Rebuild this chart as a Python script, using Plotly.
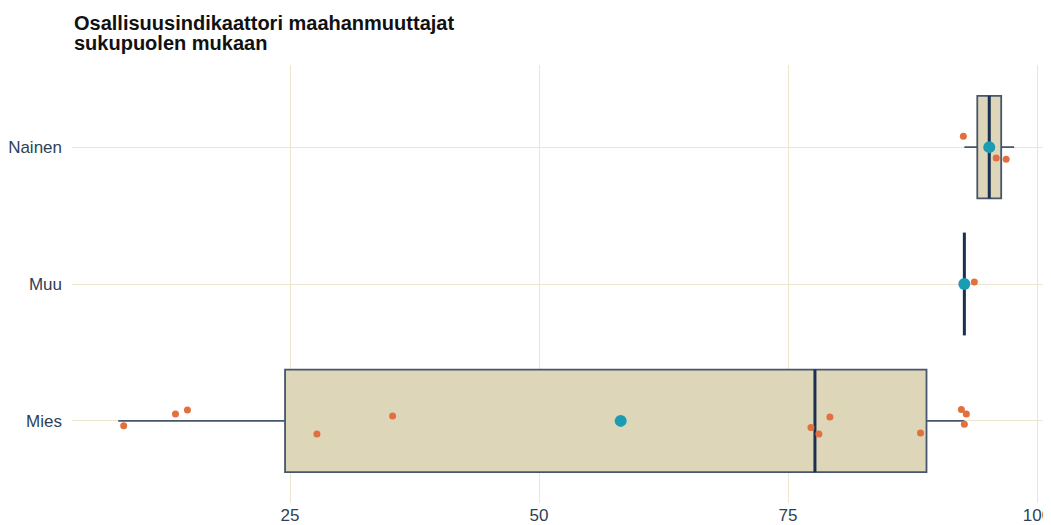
import plotly.graph_objects as go

# Categories bottom -> top
groups = ["Mies", "Muu", "Nainen"]

# Box statistics
q1 = [24.5, 92.7, 94.0]
median = [77.7, 92.7, 95.2]
q3 = [88.9, 92.7, 96.4]
lower = [7.75, 92.7, 92.7]
upper = [92.7, 92.7, 97.7]
means = [58.2, 92.7, 95.2]

# Jittered observations (value, vertical jitter) per group
mies_x = [8.3, 13.5, 14.7, 27.7, 35.3, 77.3, 78.1, 79.2, 88.3, 92.4, 92.9, 92.7]
mies_jit = [-0.036, 0.051, 0.080, -0.095, 0.036, -0.048, -0.095, 0.029, -0.088, 0.084, 0.051, -0.024]
muu_x = [93.7]
muu_jit = [0.015]
nainen_x = [92.6, 95.9, 96.9]
nainen_jit = [0.080, -0.080, -0.088]

title_lines = ["Osallisuusindikaattori maahanmuuttajat", "sukupuolen mukaan"]

pos = list(range(len(groups)))
box_w = 0.75

pts_x = mies_x + muu_x + nainen_x
pts_y = ([0 + j for j in mies_jit] + [1 + j for j in muu_jit] +
         [2 + j for j in nainen_jit])

# median segments (drawn thicker, like ggplot's fatten)
med_x, med_y = [], []
for p, m in zip(pos, median):
  med_x += [m, m, None]
  med_y += [p - box_w / 2, p + box_w / 2, None]

fig = go.Figure()
fig.add_trace(go.Box(
  y=pos, q1=q1, median=median, q3=q3, lowerfence=lower, upperfence=upper,
  orientation="h", width=box_w, whiskerwidth=0,
  fillcolor="#ded6b8", line=dict(color="#46566c", width=1.8),
  hoverinfo="skip", showlegend=False))
fig.add_trace(go.Scatter(
  x=med_x, y=med_y, mode="lines",
  line=dict(color="#1b3152", width=3), hoverinfo="skip", showlegend=False))
fig.add_trace(go.Scatter(
  x=pts_x, y=pts_y, mode="markers",
  marker=dict(color="#e2703f", size=7), showlegend=False))
fig.add_trace(go.Scatter(
  x=means, y=pos, mode="markers",
  marker=dict(color="#1a9db3", size=12), showlegend=False))

grid = "#ece6d0"
# page body adds an 8px margin, so the figure is 8px smaller than the window
fig.update_layout(
  width=1043, height=517,
  margin=dict(l=64, r=0, t=57, b=22),
  plot_bgcolor="white", paper_bgcolor="white",
  font=dict(family="Liberation Sans, Arial, sans-serif", color="#2e3f57", size=17),
  annotations=[
    dict(text="<b>{}</b>".format(title_lines[0]), xref="paper", yref="paper",
         x=0, y=1.095, xanchor="left", yanchor="middle", showarrow=False,
         font=dict(size=20, color="#111111")),
    dict(text="<b>{}</b>".format(title_lines[1]), xref="paper", yref="paper",
         x=0, y=1.050, xanchor="left", yanchor="middle", showarrow=False,
         font=dict(size=20, color="#111111")),
  ],
)
fig.update_xaxes(range=[3.11, 101.4], tickvals=[25, 50, 75, 100],
                 showgrid=True, gridcolor=grid, gridwidth=1, zeroline=False,
                 showline=False, ticks="", ticklabeloverflow="allow")
fig.update_yaxes(range=[-0.6, 2.6], tickvals=pos, ticktext=groups,
                 showgrid=True, gridcolor=grid, gridwidth=1, zeroline=False,
                 showline=False, ticks="", ticklabelstandoff=9)

fig.write_html("out.html")
